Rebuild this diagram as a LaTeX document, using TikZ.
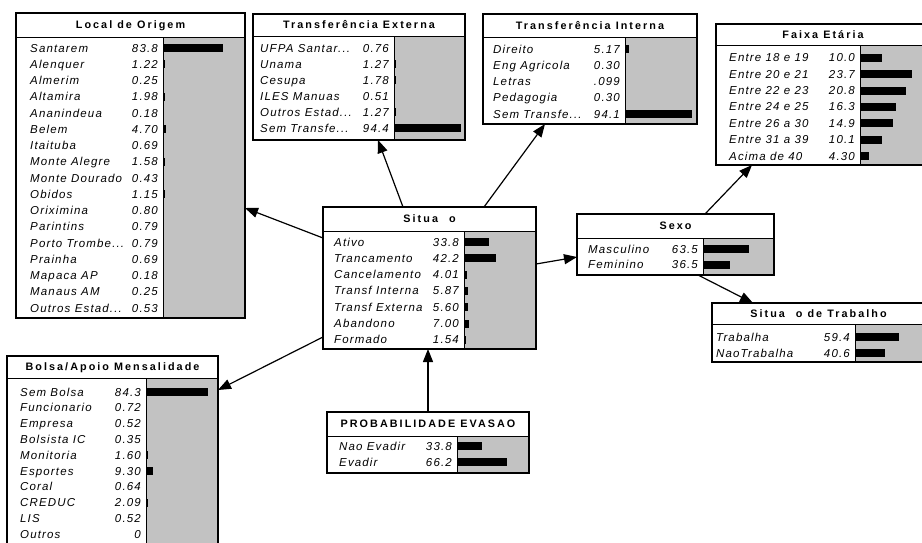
\documentclass[tikz,border=0pt]{standalone}
\usepackage{fontspec}
\setmainfont{Liberation Sans}
\newfontfamily\rowfont{Liberation Sans}[LetterSpace=10]
\newfontfamily\ttlfont{Liberation Sans}[LetterSpace=19]
\usetikzlibrary{arrows.meta,calc}

\newcommand\tdots{...}

\tikzset{
  stipple/.style={fill=black!24},
  bnframe/.style={draw, line width=1.3pt, inner sep=0pt, outer sep=0pt},
  sepline/.style={line width=0.9pt},
  rowtext/.style={inner sep=0pt, font=\rowfont\itshape\fontsize{11.5}{13}\selectfont},
  titletext/.style={inner sep=0pt, font=\ttlfont\bfseries\fontsize{10.8}{12}\selectfont},
  link/.style={line width=1.2pt, -{Triangle[length=13pt,width=10pt]}},
}

% frame of a belief box: name, left, right, top, title bottom, divider, bottom, title
\newcommand\bnbox[8]{%
  \fill[stipple] (#6,#5) rectangle (#3,#7);
  \draw[sepline] (#2,#5) -- (#3,#5) (#6,#5) -- (#6,#7);
  \node[bnframe, minimum width={#3-#2}, minimum height={#7-#4}, anchor=north west] (#1) at (#2,#4) {};
  \node[titletext, anchor=base] at ({(#2+#3)/2},{(#4+#5)/2+3.9}) {#8};
}

% state rows: label x, divider, first row y, row step, bar scale, label/value list
\newcommand\bnrows[6]{%
  \foreach \lab/\val [count=\i from 0] in {#6} {
    \pgfmathsetmacro\yy{#3+\i*#4}
    \node[rowtext, anchor=base west] at (#1,\yy+4) {\lab};
    \node[rowtext, anchor=base east] at ({#2-5},\yy+4) {\val};
    \pgfmathsetmacro\bl{\val*#5}
    \ifdim\bl pt>0.6pt
      \pgfmathsetmacro\bl{max(\bl,1.8)}
      \fill ({#2},{\yy-4}) rectangle ({#2+\bl},{\yy+4});
    \fi
  }
}

\begin{document}
\begin{tikzpicture}[x=1pt, y=-1pt]
\useasboundingbox (0,0) rectangle (922,542);
\clip (0,0) rectangle (922,542);
\fill[white] (0,0) rectangle (922,542);

% Local de Origem
\bnbox{loc}{16}{245}{13}{37}{163}{318}{Local de Origem}
\bnrows{30}{163}{48}{16.25}{0.72}{Santarem/83.8, Alenquer/1.22, Almerim/0.25, Altamira/1.98,
  Ananindeua/0.18, Belem/4.70, Itaituba/0.69, Monte Alegre/1.58, Monte Dourado/0.43,
  Obidos/1.15, Oriximina/0.80, Parintins/0.79, Porto Trombe\tdots/0.79, Prainha/0.69,
  Mapaca AP/0.18, Manaus AM/0.25, Outros Estad\tdots/0.53}

% Transferencia Externa
\bnbox{ext}{253}{465}{14}{36}{394}{140}{Transferência Externa}
\bnrows{260}{394}{48}{16}{0.71}{UFPA Santar\tdots/0.76, Unama/1.27, Cesupa/1.78,
  ILES Manuas/0.51, Outros Estad\tdots/1.27, Sem Transfe\tdots/94.4}

% Transferencia Interna
\bnbox{int}{483}{697}{14}{37}{625}{124}{Transferência Interna}
\bnrows{493}{625}{49}{16.25}{0.71}{Direito/5.17, Eng Agricola/0.30, Letras/.099,
  Pedagogia/0.30, Sem Transfe\tdots/94.1}

% Faixa Etaria
\bnbox{faixa}{716}{930}{24}{45}{860}{165}{Faixa Etária}
\bnrows{729}{860}{57.7}{16.4}{2.2}{Entre 18 e 19/10.0, Entre 20 e 21/23.7, Entre 22 e 23/20.8,
  Entre 24 e 25/16.3, Entre 26 a 30/14.9, Entre 31 a 39/10.1, Acima de 40/4.30}

% Situacao
\bnbox{sit}{323}{536}{207}{231}{464}{349}{Situa\hspace{11pt}o}
\bnrows{334}{464}{242}{16.33}{0.75}{Ativo/33.8, Trancamento/42.2, Cancelamento/4.01,
  Transf Interna/5.87, Transf Externa/5.60, Abandono/7.00, Formado/1.54}

% Sexo
\bnbox{sexo}{577}{774}{214}{238}{703}{275}{Sexo}
\bnrows{588}{703}{249}{15.5}{0.73}{Masculino/63.5, Feminino/36.5}

% Situacao de Trabalho
\bnbox{trab}{712}{925}{303}{324}{855}{362}{Situa\hspace{11pt}o de Trabalho}
\bnrows{716}{855}{337}{16}{0.74}{Trabalha/59.4, NaoTrabalha/40.6}

% Bolsa/Apoio Mensalidade
\bnbox{bolsa}{7}{218}{356}{378}{146}{550}{Bolsa/Apoio Mensalidade}
\bnrows{20}{146}{392}{15.8}{0.73}{Sem Bolsa/84.3, Funcionario/0.72, Empresa/0.52,
  Bolsista IC/0.35, Monitoria/1.60, Esportes/9.30, Coral/0.64, CREDUC/2.09, LIS/0.52, Outros/0}

% Probabilidade Evasao
\bnbox{prob}{327}{529}{412}{436}{457}{473}{PROBABILIDADE EVASAO}
\bnrows{339}{457}{446}{16}{0.75}{Nao Evadir/33.8, Evadir/66.2}

% links
\draw[link] ($(sit.north west)+(0,31)$) -- ($(loc.north east)+(0,195)$);
\draw[link] ($(sit.north west)+(80,0)$) -- ($(ext.south west)+(125,0)$);
\draw[link] ($(sit.north west)+(161,0)$) -- ($(int.south west)+(62,0)$);
\draw[link] ($(sit.north west)+(0,130)$) -- ($(bolsa.north east)+(0,34)$);
\draw[link] ($(sit.north east)+(0,57)$) -- ($(sexo.north west)+(0,43)$);
\draw[link] ($(sexo.north west)+(128,0)$) -- ($(faixa.south west)+(36,0)$);
\draw[link] ($(sexo.south west)+(121,0)$) -- ($(trab.north west)+(41,0)$);
\draw[link] (prob.north) -- (prob.north |- sit.south);
\end{tikzpicture}
\end{document}
